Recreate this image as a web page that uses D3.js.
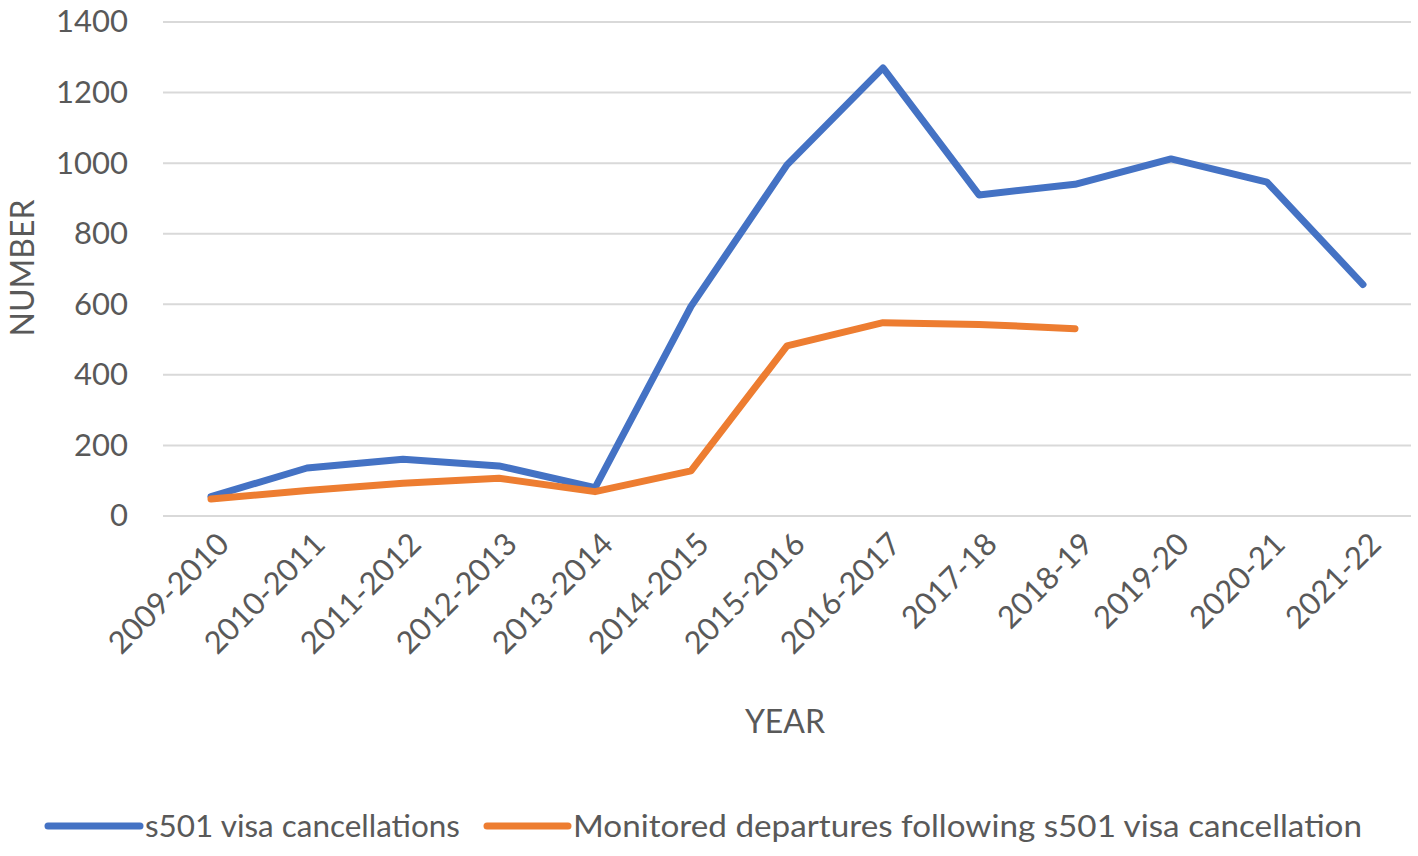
<!DOCTYPE html>
<html>
<head>
<meta charset="utf-8">
<script src="https://cdn.jsdelivr.net/npm/d3@7"></script>
<style>
  body { margin: 0; background: #fff; }
  text { font-family: Lato, "Open Sans", sans-serif; fill: #595959; }
</style>
</head>
<body>
<svg id="chart" width="1418" height="856"></svg>
<script>
var years = ['2009-2010','2010-2011','2011-2012','2012-2013','2013-2014','2014-2015',
	'2015-2016','2016-2017','2017-18','2018-19','2019-20','2020-21','2021-22'];
var cancellations = [55, 136, 161, 142, 80, 594, 995, 1270, 910, 940, 1012, 946, 656];
var departures = [48, 72, 93, 107, 69, 128, 482, 548, 543, 531, null, null, null];
var yTicks = [0, 200, 400, 600, 800, 1000, 1200, 1400];
var seriesNames = ['s501 visa cancellations', 'Monitored departures following s501 visa cancellation'];
var seriesColors = ['#4472c4', '#ed7d31'];

var svg = d3.select('#chart');
var plotL = 163, plotR = 1411, plotT = 22, plotB = 516;

var x = d3.scaleBand().domain(years).range([plotL, plotR]);
var y = d3.scaleLinear().domain([0, 1400]).range([plotB, plotT]);

// gridlines
svg.append('g').selectAll('line').data(yTicks).enter().append('line')
	.attr('x1', plotL).attr('x2', plotR)
	.attr('y1', function (d) { return y(d); })
	.attr('y2', function (d) { return y(d); })
	.attr('stroke', '#d9d9d9').attr('stroke-width', 2);

// y axis labels
var yAxis = svg.append('g').attr('transform', 'translate(' + (plotL - 35) + ',0)')
	.call(d3.axisLeft(y).tickValues(yTicks).tickFormat(d3.format('d')).tickSize(0).tickPadding(0));
yAxis.select('.domain').remove();
yAxis.selectAll('text').attr('font-size', 31).attr('fill', '#595959')
	.style('font-family', 'Lato, "Open Sans", sans-serif');

// x axis labels
var xAxis = svg.append('g').attr('transform', 'translate(0,' + plotB + ')')
	.call(d3.axisBottom(x).tickSize(0).tickPadding(0));
xAxis.select('.domain').remove();
xAxis.selectAll('text')
	.attr('font-size', 31).attr('fill', '#595959')
	.style('font-family', 'Lato, "Open Sans", sans-serif')
	.attr('text-anchor', 'end')
	.attr('dy', 0)
	.attr('transform', 'translate(20,30) rotate(-45)');

var lines = [cancellations, departures];
var line = d3.line()
	.defined(function (d) { return d != null; })
	.x(function (d, i) { return x(years[i]) + x.bandwidth() / 2; })
	.y(function (d) { return y(d); });

svg.append('g').selectAll('path').data(lines).enter().append('path')
	.attr('d', line)
	.attr('fill', 'none')
	.attr('stroke', function (d, i) { return seriesColors[i]; })
	.attr('stroke-width', 7)
	.attr('stroke-linejoin', 'round')
	.attr('stroke-linecap', 'round');

// axis titles
svg.append('text').attr('x', 785).attr('y', 733).attr('text-anchor', 'middle')
	.attr('font-size', 32).text('YEAR');
svg.append('text').attr('transform', 'translate(34,268) rotate(-90)').attr('text-anchor', 'middle')
	.attr('font-size', 32).text('NUMBER');

// legend
var legend = [
	{sx: 48, ex: 140, tx: 145, tw: 315},
	{sx: 487, ex: 568, tx: 573, tw: 789}
];
var lg = svg.append('g').selectAll('g').data(legend).enter().append('g');
lg.append('line')
	.attr('x1', function (d) { return d.sx; }).attr('x2', function (d) { return d.ex; })
	.attr('y1', 826).attr('y2', 826)
	.attr('stroke', function (d, i) { return seriesColors[i]; })
	.attr('stroke-width', 7).attr('stroke-linecap', 'round');
lg.append('text')
	.attr('x', function (d) { return d.tx; }).attr('y', 837)
	.attr('font-size', 30)
	.attr('textLength', function (d) { return d.tw; })
	.attr('lengthAdjust', 'spacingAndGlyphs')
	.text(function (d, i) { return seriesNames[i]; });
</script>
</body>
</html>
